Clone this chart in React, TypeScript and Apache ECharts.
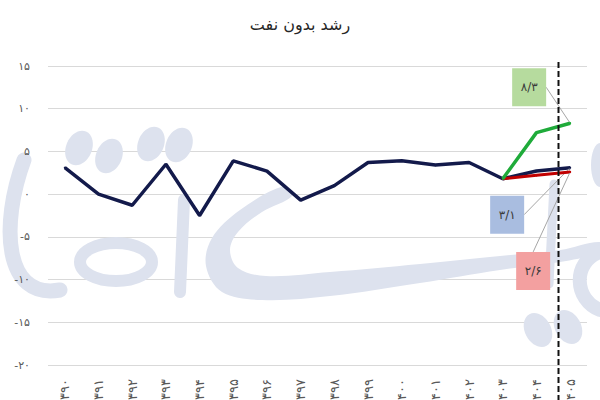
import React, { useEffect, useRef } from "react";
import * as echarts from "echarts";

const years = ["۱۳۹۰", "۱۳۹۱", "۱۳۹۲", "۱۳۹۳", "۱۳۹۴", "۱۳۹۵", "۱۳۹۶", "۱۳۹۷", "۱۳۹۸", "۱۳۹۹", "۱۴۰۰", "۱۴۰۱", "۱۴۰۲", "۱۴۰۳", "۱۴۰۴", "۱۴۰۵"];
const baseGrowth = [3.1, 0, -1.3, 3.5, -2.5, 3.9, 2.7, -0.7, 1.0, 3.7, 3.9, 3.4, 3.7, 1.8, 2.7, 3.1];
const highScenario = [null, null, null, null, null, null, null, null, null, null, null, null, null, 1.8, 7.2, 8.3];
const lowScenario = [null, null, null, null, null, null, null, null, null, null, null, null, null, 1.8, 2.2, 2.6];
const title = "رشد بدون نفت";

const faDigits = "۰۱۲۳۴۵۶۷۸۹";
function toFa(v: number | string): string {
  return String(v).replace(/[0-9]/g, (d) => faDigits[+d]).replace(".", "/");
}

const WM = "#dde2ee";

function boxLayout(dx: number, dy: number, turn: number) {
  return (p: any) => {
    const cx = p.rect.x + p.rect.width / 2;
    const cy = p.rect.y + p.rect.height / 2;
    const bx = cx + dx;
    const by = cy + dy;
    const w = p.labelRect.width;
    const right = bx + w / 2;
    return {
      x: bx,
      y: by,
      align: "center",
      verticalAlign: "middle",
      labelLinePoints: [
        [cx, cy],
        [right + turn, by],
        [right, by],
      ],
    };
  };
}

function withEndLabel(values: (number | null)[], bg: string) {
  const last = values.length - 1;
  return values.map((v, i) =>
    i === last && v !== null
      ? {
          value: v,
          label: {
            show: true,
            formatter: toFa(v),
            backgroundColor: bg,
            width: 34,
            height: 38,
            lineHeight: 38,
            align: "center",
            color: "#3a3a3a",
            fontSize: 12,
            fontFamily: "DejaVu Sans",
          },
        }
      : v
  );
}

function watermark(): any[] {
  const base = { z: 1, silent: true };
  const dots = [
    [79, 148, -0.4],
    [109, 156, -0.4],
    [151, 144, -0.4],
    [179, 145, -0.4],
    [538, 330, 0.5],
    [568, 327, 0.5],
  ];
  const els: any[] = dots.map(([x, y, r]) => ({
    ...base,
    type: "ellipse",
    x,
    y,
    rotation: r,
    shape: { cx: 0, cy: 0, rx: 13, ry: 18 },
    style: { fill: WM },
  }));
  els.push({
    ...base,
    type: "bezierCurve",
    shape: { x1: 24, y1: 160, cpx1: 0, cpy1: 225, cpx2: 4, cpy2: 300, x2: 60, y2: 290 },
    style: { stroke: WM, lineWidth: 15, fill: null, lineCap: "round" },
  });
  els.push({
    ...base,
    type: "ellipse",
    shape: { cx: 116, cy: 262, rx: 36, ry: 19 },
    style: { stroke: WM, lineWidth: 12, fill: null },
  });
  els.push({
    ...base,
    type: "line",
    shape: { x1: 184, y1: 200, x2: 180, y2: 292 },
    style: { stroke: WM, lineWidth: 12, lineCap: "round" },
  });
  els.push({
    ...base,
    type: "polygon",
    shape: {
      smooth: 0.35,
      points: [
        [284, 186],
        [240, 210],
        [212, 238],
        [206, 266],
        [222, 292],
        [262, 300],
        [330, 296],
        [420, 283],
        [500, 270],
        [560, 262],
        [600, 252],
        [600, 242],
        [560, 250],
        [500, 256],
        [420, 264],
        [330, 272],
        [266, 276],
        [238, 268],
        [230, 250],
        [238, 232],
        [262, 212],
        [292, 196],
      ],
    },
    style: { fill: WM },
  });
  els.push({
    ...base,
    type: "line",
    shape: { x1: 554, y1: 184, x2: 549, y2: 284 },
    style: { stroke: WM, lineWidth: 9, lineCap: "round" },
  });
  els.push({
    ...base,
    type: "ellipse",
    shape: { cx: 600, cy: 165, rx: 9, ry: 22 },
    style: { fill: WM },
  });
  els.push({
    ...base,
    type: "bezierCurve",
    shape: { x1: 600, y1: 252, cpx1: 572, cpy1: 262, cpx2: 574, cpy2: 300, x2: 600, y2: 310 },
    style: { stroke: WM, lineWidth: 14, fill: null, lineCap: "round" },
  });
  return els;
}

export default function App() {
  const ref = useRef<HTMLDivElement>(null);
  useEffect(() => {
    if (!ref.current) return;
    const chart = echarts.init(ref.current, null, { renderer: "svg" });
    const font = "DejaVu Sans";
    const yBase = {
      type: "value",
      min: -20,
      max: 15,
      interval: 5,
      axisLine: { show: false },
      axisTick: { show: false },
    };
    chart.setOption({
      animation: false,
      backgroundColor: "#ffffff",
      title: {
        text: title,
        left: "center",
        top: 11,
        textStyle: { fontSize: 16, fontWeight: "normal", color: "#262626", fontFamily: font },
      },
      grid: { left: 48, right: 13, top: 66, bottom: 35, containLabel: false, outerBoundsMode: "none" },
      xAxis: {
        type: "category",
        data: years,
        boundaryGap: true,
        axisLine: { show: false },
        axisTick: { show: false },
        axisLabel: { rotate: 90, margin: 14, fontSize: 13, color: "#595959", fontFamily: font, interval: 0 },
        splitLine: { show: false },
      },
      yAxis: [
        {
          ...yBase,
          z: 0,
          axisLabel: { show: false },
          splitLine: { lineStyle: { color: "#d9d9d9", width: 1 } },
        },
        {
          ...yBase,
          z: 6,
          position: "left",
          axisLabel: { margin: 18, fontSize: 11, color: "#595959", fontFamily: font, formatter: (v: number) => toFa(v) },
          splitLine: { show: false },
        },
      ],
      series: [
        {
          name: "base",
          type: "line",
          data: withEndLabel(baseGrowth, "#a9bde0"),
          showSymbol: true,
          symbol: "circle",
          symbolSize: 2,
          itemStyle: { color: "#131a4b" },
          lineStyle: { color: "#131a4b", width: 3.5 },
          label: { show: false },
          labelLine: { show: true, lineStyle: { color: "#a6a6a6", width: 1 } },
          labelLayout: boxLayout(-63, 47, 10),
          z: 3,
        },
        {
          name: "low",
          type: "line",
          data: withEndLabel(lowScenario, "#f3a0a0"),
          showSymbol: true,
          symbol: "circle",
          symbolSize: 2,
          itemStyle: { color: "#c00000" },
          lineStyle: { color: "#c00000", width: 3 },
          label: { show: false },
          labelLine: { show: true, lineStyle: { color: "#a6a6a6", width: 1 } },
          labelLayout: boxLayout(-37, 99, 8),
          z: 4,
        },
        {
          name: "high",
          type: "line",
          data: withEndLabel(highScenario, "#b6db9e"),
          showSymbol: true,
          symbol: "circle",
          symbolSize: 2,
          itemStyle: { color: "#1fab3a" },
          lineStyle: { color: "#1fab3a", width: 3.5 },
          label: { show: false },
          labelLine: { show: true, lineStyle: { color: "#a6a6a6", width: 1 } },
          labelLayout: boxLayout(-41, -36, 12),
          z: 5,
        },
      ],
    });
    const x0 = chart.convertToPixel({ xAxisIndex: 0 }, years[years.length - 2]) as number;
    const x1 = chart.convertToPixel({ xAxisIndex: 0 }, years[years.length - 1]) as number;
    const xd = Math.round(x0 + 0.63 * (x1 - x0)) + 0.5;
    chart.setOption({
      graphic: [
        ...watermark(),
        {
          type: "line",
          z: 10,
          silent: true,
          shape: { x1: xd, y1: 62, x2: xd, y2: 400 },
          style: { stroke: "#111111", lineWidth: 2, lineDash: [6, 3] },
        },
      ],
    });
    return () => chart.dispose();
  }, []);
  return <div ref={ref} style={{ position: "fixed", left: 0, top: 0, width: 600, height: 400 }} />;
}
